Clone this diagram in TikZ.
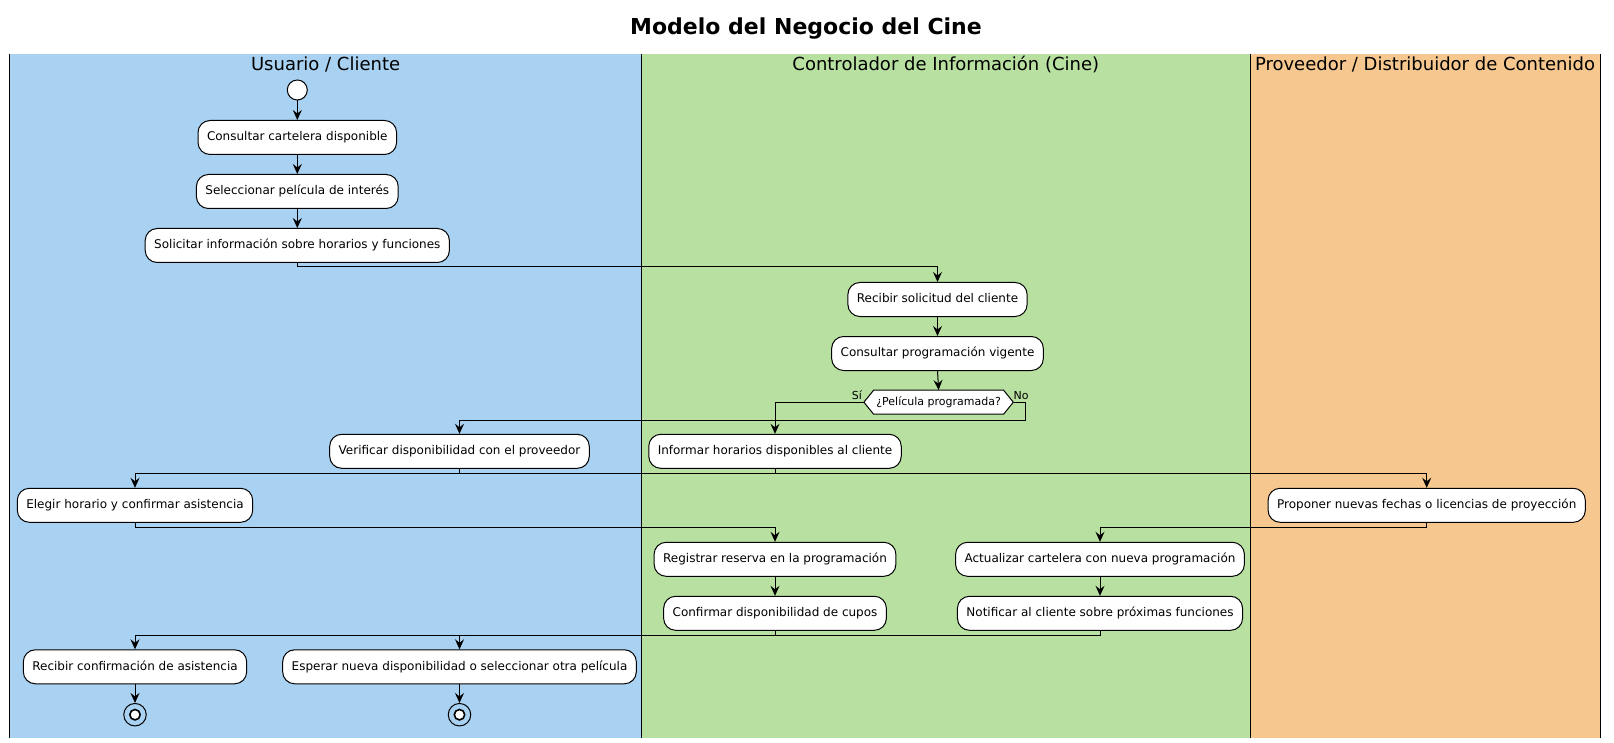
\documentclass[tikz,border=0pt]{standalone}
\usepackage{fontspec}
\setmainfont{DejaVu Sans}
\usetikzlibrary{arrows.meta}
\definecolor{laneblue}{RGB}{169,209,241}
\definecolor{lanegreen}{RGB}{184,225,161}
\definecolor{laneorange}{RGB}{246,200,143}
\tikzset{
  act/.style={draw, line width=1pt, fill=white, rounded corners=12pt, minimum height=34pt,
    inner xsep=9pt, inner ysep=0pt, text height=9pt, text depth=2.5pt, font=\fontsize{12}{14}\selectfont},
  arr/.style={line width=1pt, -{Stealth[length=10pt,width=9pt,inset=3.5pt]}},
  lanehead/.style={font=\fontsize{18}{21}\selectfont, anchor=base, inner sep=0pt},
  smalllabel/.style={font=\fontsize{11}{13}\selectfont, inner sep=0pt},
  startnode/.style={circle, draw, line width=1pt, fill=white, minimum size=20pt, inner sep=0pt},
  endnode/.style={circle, draw, line width=1pt, minimum size=22.5pt, inner sep=0pt},
}
\begin{document}
\begin{tikzpicture}[x=1pt,y=-1pt]
\useasboundingbox (0,0) rectangle (1614,743);
\fill[white] (0,0) rectangle (1614,743);
% lanes
\fill[laneblue] (9.8,54) rectangle (641.5,738);
\fill[lanegreen] (641.5,54) rectangle (1250,738);
\fill[laneorange] (1250,54) rectangle (1600,738);
\foreach \xx in {9.8,641.5,1250,1600} \draw[line width=1pt] (\xx,54) -- (\xx,738);
% title and headers
\node[anchor=base, inner sep=0pt, font=\fontsize{22}{26}\selectfont\bfseries] (title) at (806,35) {Modelo del Negocio del Cine};
\node[lanehead] (h1) at (325.6,71) {Usuario / Cliente};
\node[lanehead] (h2) at (945.8,71) {Controlador de Información (Cine)};
\node[lanehead] (h3) at (1425,71) {Proveedor / Distribuidor de Contenido};
% nodes
\node[startnode] (start) at (297.3,90) {};
\node[act] (n1) at (297.3,137.5) {Consultar cartelera disponible};
\node[act] (n2) at (297.3,191.5) {Seleccionar película de interés};
\node[act] (n3) at (297.3,245.5) {Solicitar información sobre horarios y funciones};
\node[act] (n4) at (937.5,299.5) {Recibir solicitud del cliente};
\node[act] (n5) at (937.5,353.5) {Consultar programación vigente};
% decision hexagon
\coordinate (decc) at (938.6,402.2);
\draw[line width=1pt, fill=white] ([xshift=-74.7pt]decc) -- ([xshift=-65pt,yshift=12pt]decc) -- ([xshift=65pt,yshift=12pt]decc)
  -- ([xshift=74.7pt]decc) -- ([xshift=65pt,yshift=-12pt]decc) -- ([xshift=-65pt,yshift=-12pt]decc) -- cycle;
\node[minimum width=149.4pt, minimum height=24pt, inner sep=0pt, font=\fontsize{11}{13}\selectfont] (dec) at (decc) {¿Película programada?};
\node[smalllabel, anchor=base east] (lsi) at ([xshift=-1.5pt,yshift=3pt]dec.west) {Sí};
\node[smalllabel, anchor=base west] (lno) at ([xshift=0pt,yshift=3pt]dec.east) {No};
\node[act] (n6) at (459.5,451.3) {Verificar disponibilidad con el proveedor};
\node[act] (n7) at (775,451.3) {Informar horarios disponibles al cliente};
\node[act] (n8) at (135,505.3) {Elegir horario y confirmar asistencia};
\node[act] (n9) at (1426.7,505.3) {Proponer nuevas fechas o licencias de proyección};
\node[act] (n10) at (775,559.3) {Registrar reserva en la programación};
\node[act] (n11) at (1100,559.3) {Actualizar cartelera con nueva programación};
\node[act] (n12) at (775,613.3) {Confirmar disponibilidad de cupos};
\node[act] (n13) at (1100,613.3) {Notificar al cliente sobre próximas funciones};
\node[act] (n14) at (135,666.8) {Recibir confirmación de asistencia};
\node[act] (n15) at (459.5,666.8) {Esperar nueva disponibilidad o seleccionar otra película};
\node[endnode] (end1) at (135,714.7) {};
\node[endnode] (end2) at (459.5,714.7) {};
\draw[line width=1.6pt, fill=white] (end1) circle (5.2pt);
\draw[line width=1.6pt, fill=white] (end2) circle (5.2pt);
% junction levels
\coordinate (j1) at (0,267);
\coordinate (j2) at (0,420);
\coordinate (j3) at (0,473.3);
\coordinate (j4) at (0,527.3);
\coordinate (j5) at (0,635.3);
% connectors
\draw[arr] (start) -- (n1);
\draw[arr] (n1) -- (n2);
\draw[arr] (n2) -- (n3);
\draw[arr] (n3.south) |- (j1 -| n4) -- (n4.north);
\draw[arr] (n4) -- (n5);
\draw[arr] (n5.south) -- (dec.north);
\draw[arr] (dec.west) -| (n7.north);
\draw[arr] (dec.east) -- ++(11.5,0) |- (j2 -| n6) -- (n6.north);
\draw[arr] (n7.south) |- (j3 -| n8) -- (n8.north);
\draw[arr] (n6.south) |- (j3 -| n9) -- (n9.north);
\draw[arr] (n8.south) |- (j4 -| n10) -- (n10.north);
\draw[arr] (n9.south) |- (j4 -| n11) -- (n11.north);
\draw[arr] (n10) -- (n12);
\draw[arr] (n11) -- (n13);
\draw[arr] (n12.south) |- (j5 -| n14) -- (n14.north);
\draw[arr] (n13.south) |- (j5 -| n15) -- (n15.north);
\draw[arr] (n14) -- (end1);
\draw[arr] (n15) -- (end2);
\end{tikzpicture}
\end{document}
